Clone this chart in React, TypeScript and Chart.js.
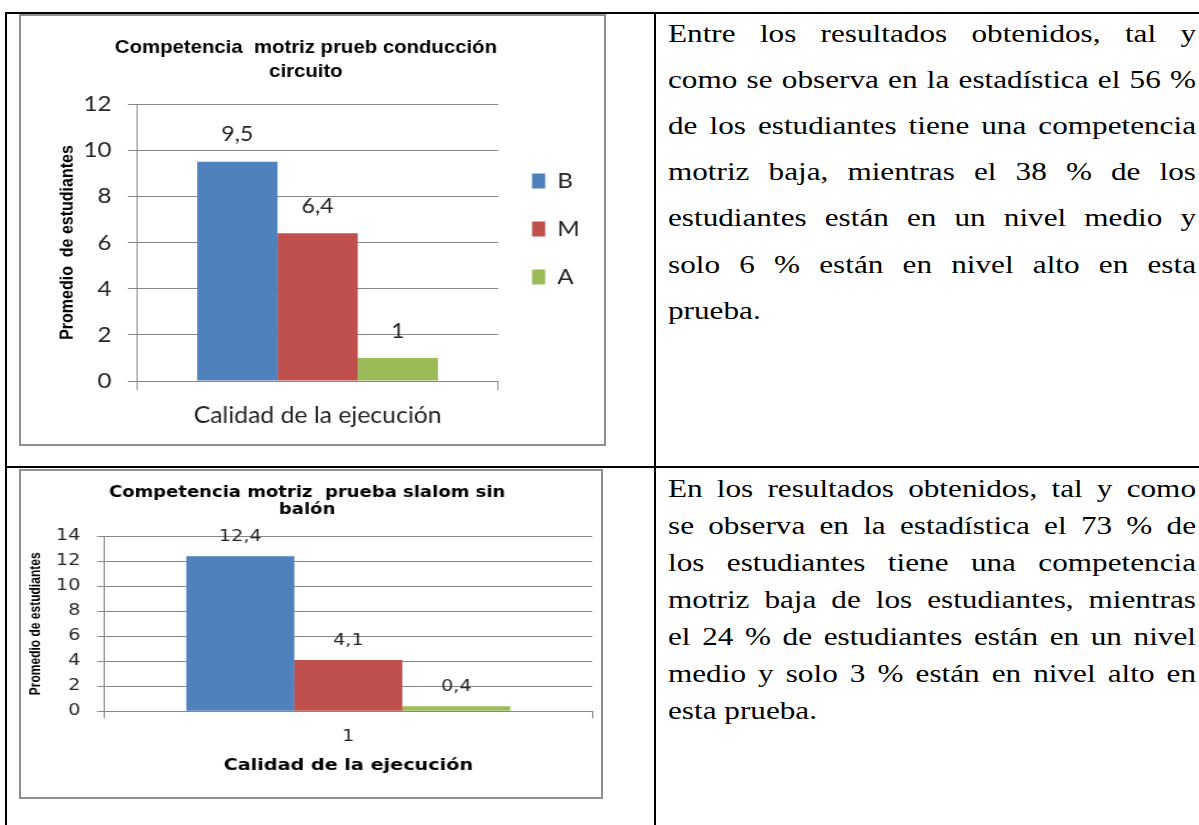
import React, { useEffect, useRef } from "react";
import { Chart, registerables } from "chart.js";

Chart.register(...registerables);

// ---------- data ----------
const seriesNames = ["B", "M", "A"];
const seriesColors = ["#4F81BD", "#C0504D", "#9BBB59"];

const chart1Title = ["Competencia  motriz prueb conducción", "circuito"];
const chart1Categories = ["Calidad de la ejecución"];
const chart1B = [9.5];
const chart1M = [6.4];
const chart1A = [1];
const chart1YMax = 12;
const chart1YStep = 2;
const chart1YTitle = "Promedio  de estudiantes";

const chart2Title = ["Competencia motriz  prueba slalom sin", "balón"];
const chart2Categories = ["1"];
const chart2B = [12.4];
const chart2M = [4.1];
const chart2A = [0.4];
const chart2YMax = 14;
const chart2YStep = 2;
const chart2YTitle = "Promedio de estudiantes";
const chart2XTitle = "Calidad de la ejecución";

const text1Lines = [
  "Entre los resultados obtenidos, tal y",
  "como se observa en la estadística el 56 %",
  "de los estudiantes tiene una competencia",
  "motriz baja, mientras el 38 % de los",
  "estudiantes están en  un nivel medio y",
  "solo 6 % están en nivel  alto en esta",
  "prueba.",
];
const text2Lines = [
  "En los resultados obtenidos, tal y como",
  "se observa en la estadística el 73 % de",
  "los estudiantes tiene una competencia",
  "motriz baja de los estudiantes, mientras",
  "el 24 % de estudiantes están en  un nivel",
  "medio y solo 3 % están en nivel  alto en",
  "esta prueba.",
];

// ---------- helpers ----------
const GRID = "#868686";
const TICK = "#262626";
const ARIAL = '"Liberation Sans", Arial, sans-serif';
const DEJAVU = '"DejaVu Sans", Verdana, sans-serif';

const barValuesPlugin = {
  id: "barValues",
  afterDatasetsDraw(chart: any) {
    const opts = chart.options.plugins.barValues || {};
    const ctx = chart.ctx;
    chart.data.datasets.forEach((ds: any, i: number) => {
      const meta = chart.getDatasetMeta(i);
      meta.data.forEach((el: any, j: number) => {
        const v = ds.data[j];
        ctx.save();
        ctx.font = opts.font;
        ctx.fillStyle = opts.color;
        ctx.textAlign = "center";
        ctx.textBaseline = "middle";
        ctx.fillText(String(v).replace(".", ","), el.x, el.y - opts.offset);
        ctx.restore();
      });
    });
  },
};

function makeDatasets(values: number[][], catPct: number) {
  return seriesNames.map((name, i) => ({
    label: name,
    data: values[i],
    backgroundColor: seriesColors[i],
    borderWidth: 0,
    categoryPercentage: catPct,
    barPercentage: 1,
  }));
}

function chart1Config(): any {
  return {
    type: "bar",
    data: {
      labels: chart1Categories,
      datasets: makeDatasets([chart1B, chart1M, chart1A], 0.667),
    },
    options: {
      responsive: false,
      animation: false,
      devicePixelRatio: 1,
      layout: { padding: { top: 0, bottom: 2, left: 0, right: 12 } },
      plugins: {
        title: {
          display: true,
          text: chart1Title,
          color: "#000",
          font: { family: ARIAL, size: 18.5, weight: "bold", lineHeight: "24.3px" },
          padding: { top: 19.3, bottom: 20.1 },
        },
        legend: {
          display: true,
          position: "right",
          labels: {
            boxWidth: 12,
            boxHeight: 15,
            padding: 26,
            color: TICK,
            font: { family: "Lato", size: 22 },
          },
        },
        tooltip: { enabled: false },
        barValues: { font: "21px Lato", color: TICK, offset: 27 },
      },
      scales: {
        x: {
          grid: { display: true, drawOnChartArea: false, drawTicks: true, tickLength: 9, color: GRID, offset: true },
          border: { display: true, color: GRID },
          ticks: { font: { family: "Lato", size: 22.5 }, color: TICK, padding: 12.5 },
          afterFit: (s: any) => { s.height = 61; },
        },
        y: {
          min: 0,
          max: chart1YMax,
          ticks: { stepSize: chart1YStep, font: { family: "Lato", size: 22 }, color: TICK, padding: 15.1 },
          grid: { color: GRID, tickLength: 8.2 },
          border: { display: true, color: GRID },
          title: {
            display: true,
            text: chart1YTitle,
            color: "#000",
            font: { family: ARIAL, size: 16, weight: "bold" },
            padding: { top: 33.3, bottom: 0 },
          },
          afterFit: (s: any) => { s.width = 105.5; },
        },
        gap: {
          type: "linear",
          position: "right",
          display: true,
          grid: { display: false, drawTicks: false },
          border: { display: false },
          ticks: { display: false },
          afterFit: (s: any) => { s.width = 4.8; },
        },
      },
    },
    plugins: [barValuesPlugin],
  };
}

function chart2Config(): any {
  return {
    type: "bar",
    data: {
      labels: chart2Categories,
      datasets: makeDatasets([chart2B, chart2M, chart2A], 0.664),
    },
    options: {
      responsive: false,
      animation: false,
      devicePixelRatio: 1,
      layout: { padding: { top: 0, bottom: 0, left: 0, right: 7.8 } },
      plugins: {
        title: {
          display: true,
          text: chart2Title,
          color: "#000",
          font: { family: DEJAVU, size: 15, weight: "bold", lineHeight: "17px" },
          padding: { top: 13.8, bottom: 17.5 },
        },
        legend: { display: false },
        tooltip: { enabled: false },
        barValues: { font: `16px ${DEJAVU}`, color: TICK, offset: 19 },
      },
      scales: {
        x: {
          grid: { display: true, drawOnChartArea: false, drawTicks: true, tickLength: 7, color: GRID, offset: true },
          border: { display: true, color: GRID },
          ticks: { font: { family: DEJAVU, size: 16 }, color: TICK, padding: 9.4 },
          title: {
            display: true,
            text: chart2XTitle,
            color: "#000",
            font: { family: DEJAVU, size: 16, weight: "bold" },
            padding: { top: 0, bottom: 21.1 },
          },
          afterFit: (s: any) => { s.height = 85.7; },
        },
        y: {
          min: 0,
          max: chart2YMax,
          ticks: { stepSize: chart2YStep, font: { family: DEJAVU, size: 16 }, color: TICK, padding: 14.1 },
          grid: { color: GRID, tickLength: 5.9 },
          border: { display: true, color: GRID },
          title: {
            display: true,
            text: chart2YTitle,
            color: "#000",
            font: { family: ARIAL, size: 12, weight: "bold" },
            padding: { top: 4.7, bottom: 0 },
          },
          afterFit: (s: any) => { s.width = 68.6; },
        },
      },
    },
    plugins: [barValuesPlugin],
  };
}

function ChartCanvas(props: { make: () => any; left: number; top: number; width: number; height: number; sx: number }) {
  const ref = useRef<HTMLCanvasElement | null>(null);
  useEffect(() => {
    if (!ref.current) return;
    const chart = new Chart(ref.current, props.make());
    return () => chart.destroy();
  }, []);
  return (
    <canvas
      ref={ref}
      width={props.width}
      height={props.height}
      style={{
        position: "absolute",
        left: props.left,
        top: props.top,
        width: props.width,
        height: props.height,
        transform: `scaleX(${props.sx})`,
        transformOrigin: "0 0",
      }}
    />
  );
}

function Frame(props: { left: number; top: number; width: number; height: number }) {
  return (
    <div
      style={{
        position: "absolute",
        left: props.left,
        top: props.top,
        width: props.width,
        height: props.height,
        boxSizing: "border-box",
        border: "2px solid #8e8e8e",
        background: "#fff",
      }}
    />
  );
}

function Line(props: { left: number; top: number; width: number; height: number }) {
  return (
    <div style={{ position: "absolute", left: props.left, top: props.top, width: props.width, height: props.height, background: "#000" }} />
  );
}

function TextCell(props: { lines: string[]; left: number; top: number; width: number; lineHeight: number }) {
  const { lines } = props;
  return (
    <div
      style={{
        position: "absolute",
        left: props.left,
        top: props.top,
        width: props.width,
        fontFamily: '"Liberation Serif", "Times New Roman", serif',
        fontSize: 26,
        lineHeight: props.lineHeight + "px",
        color: "#000",
        transform: "scaleX(1.2)",
        transformOrigin: "0 0",
      }}
    >
      {lines.map((l, i) => (
        <div
          key={i}
          style={{
            textAlign: "justify",
            textAlignLast: i === lines.length - 1 ? "left" : "justify",
          } as any}
        >
          {l}
        </div>
      ))}
    </div>
  );
}

export default function App() {
  return (
    <div
      style={{
        position: "absolute",
        left: 0,
        top: 0,
        width: 1199,
        height: 825,
        overflow: "hidden",
        background: "#fff",
      }}
    >
      {/* table lines */}
      <Line left={5} top={12} width={1194} height={2} />
      <Line left={5} top={466} width={1194} height={2} />
      <Line left={5} top={12} width={2} height={813} />
      <Line left={654.3} top={12} width={2} height={813} />

      {/* chart 1 */}
      <Frame left={19.3} top={14} width={586.7} height={432} />
      <ChartCanvas make={chart1Config} left={21.3} top={16} width={530} height={428} sx={1.1} />

      {/* chart 2 */}
      <Frame left={19.3} top={468.7} width={584.2} height={330} />
      <ChartCanvas make={chart2Config} left={21.7} top={470.7} width={483} height={326} sx={1.2} />

      {/* text cells */}
      <TextCell lines={text1Lines} left={668} top={10.6} width={440} lineHeight={46.2} />
      <TextCell lines={text2Lines} left={668} top={470.2} width={440} lineHeight={37} />
    </div>
  );
}
